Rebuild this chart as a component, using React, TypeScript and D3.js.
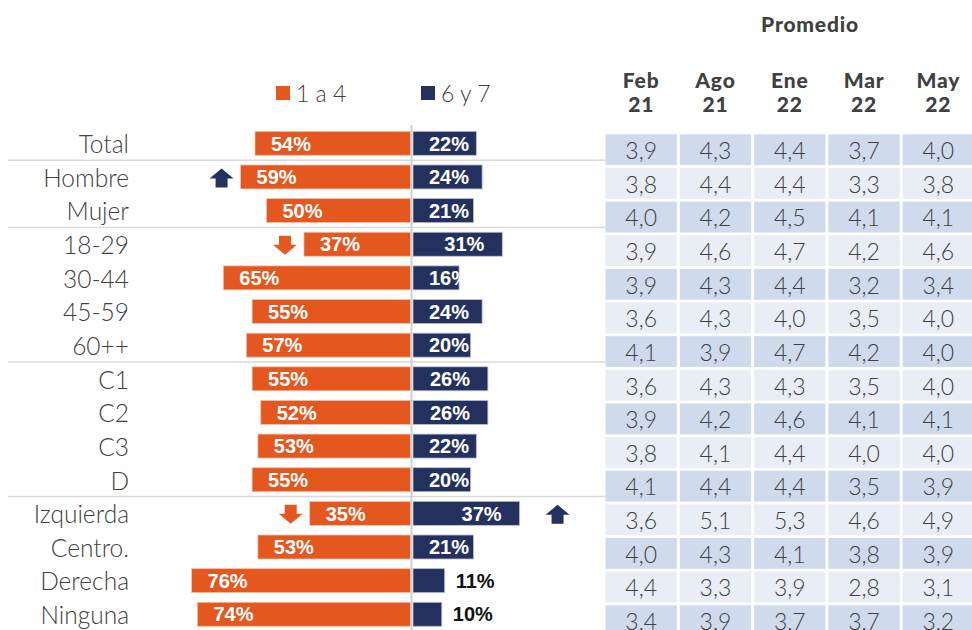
import React from "react";
import * as d3 from "d3";

const categories = ["Total", "Hombre", "Mujer", "18-29", "30-44", "45-59", "60++", "C1", "C2", "C3", "D", "Izquierda", "Centro.", "Derecha", "Ninguna"];
const low = [54, 59, 50, 37, 65, 55, 57, 55, 52, 53, 55, 35, 53, 76, 74];
const high = [22, 24, 21, 31, 16, 24, 20, 26, 26, 22, 20, 37, 21, 11, 10];
const periods = [["Feb", "21"], ["Ago", "21"], ["Ene", "22"], ["Mar", "22"], ["May", "22"]];
const promedio = [
  ["3,9", "4,3", "4,4", "3,7", "4,0"],
  ["3,8", "4,4", "4,4", "3,3", "3,8"],
  ["4,0", "4,2", "4,5", "4,1", "4,1"],
  ["3,9", "4,6", "4,7", "4,2", "4,6"],
  ["3,9", "4,3", "4,4", "3,2", "3,4"],
  ["3,6", "4,3", "4,0", "3,5", "4,0"],
  ["4,1", "3,9", "4,7", "4,2", "4,0"],
  ["3,6", "4,3", "4,3", "3,5", "4,0"],
  ["3,9", "4,2", "4,6", "4,1", "4,1"],
  ["3,8", "4,1", "4,4", "4,0", "4,0"],
  ["4,1", "4,4", "4,4", "3,5", "3,9"],
  ["3,6", "5,1", "5,3", "4,6", "4,9"],
  ["4,0", "4,3", "4,1", "3,8", "3,9"],
  ["4,4", "3,3", "3,9", "2,8", "3,1"],
  ["3,4", "3,9", "3,7", "3,7", "3,2"],
];
const separatorsAfter = ["Total", "Mujer", "60++", "D"];
const arrows = [
  { cat: "Hombre", side: "low", dir: "up" },
  { cat: "18-29", side: "low", dir: "down" },
  { cat: "Izquierda", side: "low", dir: "down" },
  { cat: "Izquierda", side: "high", dir: "up" },
];
const legendLabels = ["1 a 4", "6 y 7"];

const ORANGE = "#E4571E";
const NAVY = "#24315F";
const TEXT = "#404040";
const CENTER = 411.5;

export default function App() {
  const y = d3.scaleBand<string>().domain(categories).range([126.5, 126.5 + 33.64 * categories.length]).paddingInner(0.287).paddingOuter(0.1435);
  const w = d3.scaleLinear().domain([0, 100]).range([0, 288]);
  const step = y.step();
  const bh = y.bandwidth();
  const cx = (c: string) => (y(c) as number) + bh / 2;

  const cols = d3.scaleBand<number>().domain(d3.range(5)).range([605.5, 974]).paddingInner(0.04).paddingOuter(0);

  const arrowPath = (x: number, yc: number, dir: string) => {
    const hw = 12, sw = 6, h = 19, head = 10;
    if (dir === "up") {
      const top = yc - h / 2;
      return `M${x},${top} L${x + hw},${top + head} L${x + sw},${top + head} L${x + sw},${top + h} L${x - sw},${top + h} L${x - sw},${top + head} L${x - hw},${top + head} Z`;
    }
    const bot = yc + h / 2;
    return `M${x},${bot} L${x + hw},${bot - head} L${x + sw},${bot - head} L${x + sw},${bot - h} L${x - sw},${bot - h} L${x - sw},${bot - head} L${x - hw},${bot - head} Z`;
  };

  return (
    <svg width={972} height={630} style={{ position: "absolute", left: 0, top: 0, background: "#fff" }}>
      {/* separators */}
      {separatorsAfter.map((c) => (
        <line key={c} x1={8} x2={620} y1={cx(c) + step / 2} y2={cx(c) + step / 2} stroke="#d9d9d9" strokeWidth={1.5} />
      ))}
      {/* legend */}
      <rect x={276} y={86} width={14} height={14} fill={ORANGE} />
      <text x={296} y={102} fontFamily="Lato" fontWeight={300} fontSize={23} fill={TEXT}>{legendLabels[0]}</text>
      <rect x={421} y={86} width={14} height={14} fill={NAVY} />
      <text x={441} y={102} fontFamily="Lato" fontWeight={300} fontSize={23} fill={TEXT}>{legendLabels[1]}</text>

      {/* category labels */}
      {categories.map((c) => (
        <text key={c} x={129} y={cx(c) + 1} dy="0.36em" textAnchor="end" fontFamily="Lato" fontWeight={300} fontSize={24.5} fill={TEXT}>{c}</text>
      ))}

      {/* bars */}
      {categories.map((c, i) => {
        const lw = w(low[i]);
        const hwid = w(high[i]);
        const top = y(c) as number;
        const hx = CENTER + 1.5;
        const hend = hx + hwid;
        const inside = high[i] >= 15;
        const hLabelX = inside ? Math.max(hx + 16, hend - 58) : hend + 11;
        return (
          <g key={c}>
            <rect x={CENTER - 1 - lw} y={top} width={lw} height={bh} fill={ORANGE} stroke="#f3c3ad" strokeWidth={0.8} />
            <rect x={hx} y={top} width={hwid} height={bh} fill={NAVY} stroke="#b9bfd0" strokeWidth={0.8} />
            <text x={CENTER - 1 - lw + 16} y={cx(c)} dy="0.36em" fontFamily="Liberation Sans, Arial" fontWeight="bold" fontSize={20} fill="#fff">{low[i]}%</text>
            <text x={hLabelX} y={cx(c)} dy="0.36em" fontFamily="Liberation Sans, Arial" fontWeight="bold" fontSize={20} fill={inside ? "#fff" : "#111"}>{high[i]}%</text>
          </g>
        );
      })}
      {/* center line */}
      <line x1={CENTER} x2={CENTER} y1={125} y2={630} stroke="#d0d0d0" strokeWidth={2} />

      {/* arrows */}
      {arrows.map((a, k) => {
        const i = categories.indexOf(a.cat);
        const xPos = a.side === "low" ? CENTER - 1 - w(low[i]) - 19 : CENTER + 1.5 + w(high[i]) + 38;
        return <path key={k} d={arrowPath(xPos, cx(a.cat) + 1, a.dir)} fill={a.dir === "up" ? NAVY : ORANGE} />;
      })}

      {/* table header */}
      <text x={810} y={32} textAnchor="middle" fontFamily="Lato" fontWeight={900} fontSize={21} letterSpacing={0.8} fill={TEXT}>Promedio</text>
      {periods.map((p, j) => {
        const x = (cols(j) as number) + cols.bandwidth() / 2;
        return (
          <g key={j}>
            <text x={x} y={88} textAnchor="middle" fontFamily="Lato" fontWeight={900} fontSize={21} letterSpacing={0.8} fill={TEXT}>{p[0]}</text>
            <text x={x} y={112} textAnchor="middle" fontFamily="Lato" fontWeight={900} fontSize={21} letterSpacing={0.8} fill={TEXT}>{p[1]}</text>
          </g>
        );
      })}

      {/* table cells */}
      {categories.map((c, i) => {
        const top = (y(c) as number) + 3;
        const ch = step - 2.8;
        return (
          <g key={c}>
            {promedio[i].map((v, j) => (
              <g key={j}>
                <rect x={cols(j) as number} y={top} width={cols.bandwidth()} height={ch} fill={i % 2 === 0 ? "#CFDAEC" : "#E8EDF6"} />
                <text x={(cols(j) as number) + cols.bandwidth() / 2} y={top + ch / 2 + 1} dy="0.36em" textAnchor="middle" fontFamily="Lato" fontWeight={300} fontSize={23} fill={TEXT}>{v}</text>
              </g>
            ))}
          </g>
        );
      })}
    </svg>
  );
}
